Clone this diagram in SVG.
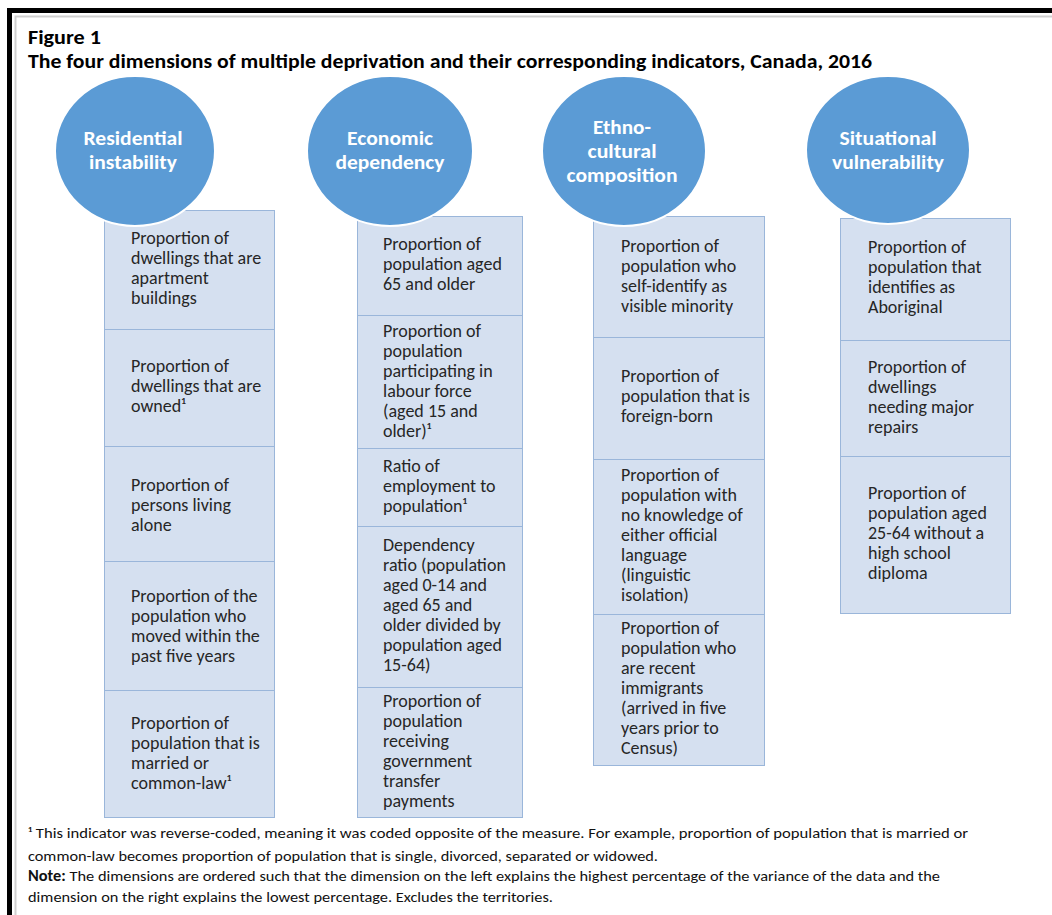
<svg xmlns="http://www.w3.org/2000/svg" width="1052" height="915" viewBox="0 0 1052 915">
<style>
.frame{fill:none;stroke:#000;stroke-width:5}
.inner{fill:none;stroke:#cfcfcf;stroke-width:2}
.circ{fill:#5b9bd5;stroke:#fff;stroke-width:2}
.box{fill:#d5e0f0;stroke:#9ab6da;stroke-width:1}
.ct{font-family:Carlito,Lato,"Liberation Sans",sans-serif;font-weight:bold;font-size:20px;fill:#fff;text-anchor:middle}
.bt{font-family:Carlito,Lato,"Liberation Sans",sans-serif;font-size:18px;fill:#262626}
.tt{font-family:Carlito,Lato,"Liberation Sans",sans-serif;font-weight:bold;font-size:20px;fill:#000}
.fn{font-family:Carlito,Lato,"Liberation Sans",sans-serif;font-size:15px;fill:#111}
</style>
<rect x="0" y="0" width="1052" height="915" fill="#fff"/>
<path class="frame" d="M9.5,915 V10.5 H1052"/>
<path class="inner" d="M15.5,915 V16.5 H1052"/>
<g id="title">
<text class="tt" x="28" y="44" textLength="73" lengthAdjust="spacingAndGlyphs">Figure 1</text>
<text class="tt" x="28" y="68" textLength="844" lengthAdjust="spacingAndGlyphs">The four dimensions of multiple deprivation and their corresponding indicators, Canada, 2016</text>
</g>
<g id="connectors"></g>
<g id="col1-boxes">
<g id="ri1"><rect class="box" x="104.5" y="210.5" width="170" height="119"/><text class="bt"><tspan x="131" y="244">Proportion of</tspan><tspan x="131" y="264">dwellings that are</tspan><tspan x="131" y="284">apartment</tspan><tspan x="131" y="304">buildings</tspan></text></g>
<g id="ri2"><rect class="box" x="104.5" y="329.5" width="170" height="117"/><text class="bt"><tspan x="131" y="372">Proportion of</tspan><tspan x="131" y="392">dwellings that are</tspan><tspan x="131" y="412">owned¹</tspan></text></g>
<g id="ri3"><rect class="box" x="104.5" y="446.5" width="170" height="115"/><text class="bt"><tspan x="131" y="491">Proportion of</tspan><tspan x="131" y="511">persons living</tspan><tspan x="131" y="531">alone</tspan></text></g>
<g id="ri4"><rect class="box" x="104.5" y="561.5" width="170" height="129"/><text class="bt"><tspan x="131" y="602">Proportion of the</tspan><tspan x="131" y="622">population who</tspan><tspan x="131" y="642">moved within the</tspan><tspan x="131" y="662">past five years</tspan></text></g>
<g id="ri5"><rect class="box" x="104.5" y="690.5" width="170" height="127"/><text class="bt"><tspan x="131" y="729">Proportion of</tspan><tspan x="131" y="749">population that is</tspan><tspan x="131" y="769">married or</tspan><tspan x="131" y="789">common-law¹</tspan></text></g>
</g>
<g id="col2-boxes">
<g id="ed1"><rect class="box" x="357.5" y="216.5" width="165" height="99"/><text class="bt"><tspan x="383" y="250">Proportion of</tspan><tspan x="383" y="270">population aged</tspan><tspan x="383" y="290">65 and older</tspan></text></g>
<g id="ed2"><rect class="box" x="357.5" y="315.5" width="165" height="133"/><text class="bt"><tspan x="383" y="337">Proportion of</tspan><tspan x="383" y="357">population</tspan><tspan x="383" y="377">participating in</tspan><tspan x="383" y="397">labour force</tspan><tspan x="383" y="417">(aged 15 and</tspan><tspan x="383" y="437">older)¹</tspan></text></g>
<g id="ed3"><rect class="box" x="357.5" y="448.5" width="165" height="78"/><text class="bt"><tspan x="383" y="472">Ratio of</tspan><tspan x="383" y="492">employment to</tspan><tspan x="383" y="512">population¹</tspan></text></g>
<g id="ed4"><rect class="box" x="357.5" y="526.5" width="165" height="161"/><text class="bt"><tspan x="383" y="551">Dependency</tspan><tspan x="383" y="571">ratio (population</tspan><tspan x="383" y="591">aged 0-14 and</tspan><tspan x="383" y="611">aged 65 and</tspan><tspan x="383" y="631">older divided by</tspan><tspan x="383" y="651">population aged</tspan><tspan x="383" y="671">15-64)</tspan></text></g>
<g id="ed5"><rect class="box" x="357.5" y="687.5" width="165" height="130"/><text class="bt"><tspan x="383" y="707">Proportion of</tspan><tspan x="383" y="727">population</tspan><tspan x="383" y="747">receiving</tspan><tspan x="383" y="767">government</tspan><tspan x="383" y="787">transfer</tspan><tspan x="383" y="807">payments</tspan></text></g>
</g>
<g id="col3-boxes">
<g id="ec1"><rect class="box" x="593.5" y="216.5" width="171" height="121"/><text class="bt"><tspan x="621" y="252">Proportion of</tspan><tspan x="621" y="272">population who</tspan><tspan x="621" y="292">self-identify as</tspan><tspan x="621" y="312">visible minority</tspan></text></g>
<g id="ec2"><rect class="box" x="593.5" y="337.5" width="171" height="122"/><text class="bt"><tspan x="621" y="382">Proportion of</tspan><tspan x="621" y="402">population that is</tspan><tspan x="621" y="422">foreign-born</tspan></text></g>
<g id="ec3"><rect class="box" x="593.5" y="459.5" width="171" height="155"/><text class="bt"><tspan x="621" y="481">Proportion of</tspan><tspan x="621" y="501">population with</tspan><tspan x="621" y="521">no knowledge of</tspan><tspan x="621" y="541">either official</tspan><tspan x="621" y="561">language</tspan><tspan x="621" y="581">(linguistic</tspan><tspan x="621" y="601">isolation)</tspan></text></g>
<g id="ec4"><rect class="box" x="593.5" y="614.5" width="171" height="151"/><text class="bt"><tspan x="621" y="634">Proportion of</tspan><tspan x="621" y="654">population who</tspan><tspan x="621" y="674">are recent</tspan><tspan x="621" y="694">immigrants</tspan><tspan x="621" y="714">(arrived in five</tspan><tspan x="621" y="734">years prior to</tspan><tspan x="621" y="754">Census)</tspan></text></g>
</g>
<g id="col4-boxes">
<g id="sv1"><rect class="box" x="840.5" y="218.5" width="170" height="122"/><text class="bt"><tspan x="868" y="253">Proportion of</tspan><tspan x="868" y="273">population that</tspan><tspan x="868" y="293">identifies as</tspan><tspan x="868" y="313">Aboriginal</tspan></text></g>
<g id="sv2"><rect class="box" x="840.5" y="340.5" width="170" height="116"/><text class="bt"><tspan x="868" y="373">Proportion of</tspan><tspan x="868" y="393">dwellings</tspan><tspan x="868" y="413">needing major</tspan><tspan x="868" y="433">repairs</tspan></text></g>
<g id="sv3"><rect class="box" x="840.5" y="456.5" width="170" height="157"/><text class="bt"><tspan x="868" y="499">Proportion of</tspan><tspan x="868" y="519">population aged</tspan><tspan x="868" y="539">25-64 without a</tspan><tspan x="868" y="559">high school</tspan><tspan x="868" y="579">diploma</tspan></text></g>
</g>
<g id="dim-residential"><ellipse class="circ" cx="135" cy="151" rx="80" ry="75"/><text class="ct" x="133" y="145" textLength="99" lengthAdjust="spacingAndGlyphs">Residential</text><text class="ct" x="133" y="169" textLength="88" lengthAdjust="spacingAndGlyphs">instability</text></g>
<g id="dim-economic"><ellipse class="circ" cx="390" cy="151" rx="83" ry="75"/><text class="ct" x="390" y="145" textLength="86" lengthAdjust="spacingAndGlyphs">Economic</text><text class="ct" x="390" y="169" textLength="109" lengthAdjust="spacingAndGlyphs">dependency</text></g>
<g id="dim-ethno"><ellipse class="circ" cx="624" cy="151" rx="82" ry="75"/><text class="ct" x="622" y="134" textLength="58" lengthAdjust="spacingAndGlyphs">Ethno-</text><text class="ct" x="622" y="158" textLength="69" lengthAdjust="spacingAndGlyphs">cultural</text><text class="ct" x="622" y="182" textLength="111" lengthAdjust="spacingAndGlyphs">composition</text></g>
<g id="dim-situational"><ellipse class="circ" cx="888" cy="150" rx="82" ry="74"/><text class="ct" x="888" y="145" textLength="97" lengthAdjust="spacingAndGlyphs">Situational</text><text class="ct" x="888" y="169" textLength="112" lengthAdjust="spacingAndGlyphs">vulnerability</text></g>
<g id="notes">
<text class="fn" x="28" y="838" textLength="940" lengthAdjust="spacingAndGlyphs">¹ This indicator was reverse-coded, meaning it was coded opposite of the measure. For example, proportion of population that is married or</text>
<text class="fn" x="28" y="861" textLength="630" lengthAdjust="spacingAndGlyphs">common-law becomes proportion of population that is single, divorced, separated or widowed.</text>
<text class="fn" x="28" y="881" textLength="912" lengthAdjust="spacingAndGlyphs"><tspan font-weight="bold">Note:</tspan> The dimensions are ordered such that the dimension on the left explains the highest percentage of the variance of the data and the</text>
<text class="fn" x="28" y="902" textLength="525" lengthAdjust="spacingAndGlyphs">dimension on the right explains the lowest percentage. Excludes the territories.</text>
</g>
</svg>
